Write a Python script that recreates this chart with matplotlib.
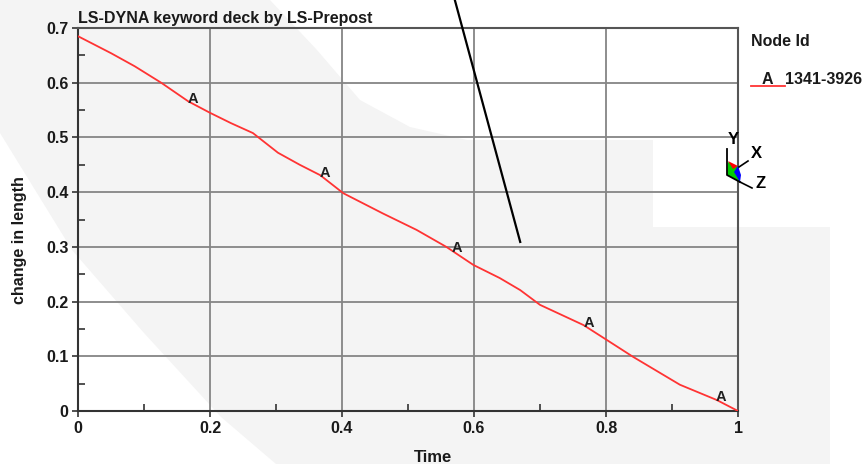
import numpy as np
import matplotlib
matplotlib.use('Agg')
import matplotlib.pyplot as plt
from matplotlib.patches import Polygon
from matplotlib.ticker import MultipleLocator

plt.rcParams['font.family'] = ['Liberation Sans', 'DejaVu Sans']

# curve
time = [0, 0.05, 0.086, 0.126, 0.167, 0.2, 0.232, 0.265, 0.303, 0.336, 0.367, 0.402,
        0.462, 0.513, 0.558, 0.599, 0.639, 0.67, 0.7, 0.766, 0.801, 0.841, 0.912, 0.968, 1.0]
length = [0.685, 0.654, 0.630, 0.600, 0.566, 0.545, 0.526, 0.508, 0.472, 0.450, 0.431, 0.398,
          0.361, 0.331, 0.300, 0.267, 0.243, 0.221, 0.194, 0.157, 0.130, 0.099, 0.048, 0.020, 0.0]
marker_x = [0.17, 0.37, 0.57, 0.77, 0.97]
xticks = [0, 0.2, 0.4, 0.6, 0.8, 1]
xticklabels = ['0', '0.2', '0.4', '0.6', '0.8', '1']
yticks = [0, 0.1, 0.2, 0.3, 0.4, 0.5, 0.6, 0.7]
yticklabels = ['0', '0.1', '0.2', '0.3', '0.4', '0.5', '0.6', '0.7']

W, H = 866, 468
fig = plt.figure(figsize=(W / 100, H / 100), dpi=100)
fig.patch.set_facecolor('white')

# faint gray watermark shape behind everything
bg = fig.add_axes([0, 0, 1, 1], zorder=0)
bg.set_xlim(0, W)
bg.set_ylim(H, 0)
bg.axis('off')
shape = [(0, 0), (270, 0), (317, 50), (360, 100), (410, 127), (467, 140), (653, 140),
         (653, 227), (830, 227), (830, 464), (276, 464), (221, 417), (144, 333),
         (72, 250), (0, 133)]
bg.add_patch(Polygon(shape, closed=True, facecolor='#f4f4f4', edgecolor='none'))

ax = fig.add_axes([78 / W, (H - 411) / H, 660 / W, 383 / H], zorder=1)
ax.set_facecolor('none')
ax.set_xlim(0, 1)
ax.set_ylim(0, 0.7)

ax.plot(time, length, color='#ff3333', lw=1.3, zorder=3)
for mx in marker_x:
    my = np.interp(mx, time, length)
    ax.text(mx + 0.004, my - 0.006, 'A', ha='center', va='bottom', fontsize=10.5,
            fontweight='bold', color='#202020', zorder=4)

ax.set_xticks(xticks)
ax.set_xticklabels(xticklabels)
ax.set_yticks(yticks)
ax.set_yticklabels(yticklabels)
ax.xaxis.set_minor_locator(MultipleLocator(0.1))
ax.yaxis.set_minor_locator(MultipleLocator(0.05))
ax.tick_params(which='major', direction='out', length=4, width=1.2, color='#333333',
               labelsize=11.5, labelcolor='#1a1a1a', pad=3)
ax.tick_params(which='minor', direction='in', length=5, width=1.2, color='#333333')
for lab in ax.get_xticklabels() + ax.get_yticklabels():
    lab.set_fontweight('bold')
ax.grid(True, which='major', color='#858585', lw=1.3)
for side in ['left', 'bottom']:
    ax.spines[side].set_color('#333333')
    ax.spines[side].set_linewidth(1.5)
for side in ['top', 'right']:
    ax.spines[side].set_color('#555555')
    ax.spines[side].set_linewidth(1.5)

# black pointer line crossing the top
ax.plot([0.571, 0.670], [0.751, 0.309], color='black', lw=1.6, clip_on=False, zorder=5)

# overlay in pixel coordinates for labels, legend and the triad
ov = fig.add_axes([0, 0, 1, 1], zorder=2)
ov.set_xlim(0, W)
ov.set_ylim(H, 0)
ov.axis('off')
ov.set_facecolor('none')

ov.text(78, 18, 'LS-DYNA keyword deck by LS-Prepost', fontsize=11.5, fontweight='bold',
        color='#1a1a1a', ha='left', va='center')
ov.text(20, 240, 'change in length', rotation=90, fontsize=11.5, fontweight='bold',
        color='#1a1a1a', ha='center', va='center')
ov.text(433, 458, 'Time', fontsize=12, fontweight='bold', color='#1a1a1a',
        ha='center', va='center')

ov.text(751, 42, 'Node Id', fontsize=11.5, fontweight='bold', color='#1a1a1a',
        ha='left', va='center')
ov.plot([751, 785], [86, 86], color='#ff3333', lw=1.3)
ov.text(767, 79, 'A', fontsize=11.5, fontweight='bold', color='#1a1a1a', ha='center', va='center')
ov.text(785, 79, '1341-3926', fontsize=11.5, fontweight='bold', color='#1a1a1a',
        ha='left', va='center')

# coordinate triad
ov.add_patch(Polygon([(728, 162), (738, 167), (740, 182), (727, 175)],
                     closed=True, facecolor='#00cc00', edgecolor='none'))
ov.add_patch(Polygon([(728, 161), (738, 166), (733, 169)],
                     closed=True, facecolor='#ff0000', edgecolor='none'))
ov.add_patch(Polygon([(738, 166), (741, 175), (740, 182), (734, 172)],
                     closed=True, facecolor='#0000ff', edgecolor='none'))
ov.plot([727, 727, 740], [149, 175, 182], color='black', lw=1.3)
ov.plot([739, 748], [167, 161], color='black', lw=1.2)
ov.plot([740, 752], [182, 188], color='black', lw=1.2)
ov.text(733, 139, 'Y', fontsize=12, fontweight='bold', ha='center', va='center')
ov.text(756, 153, 'X', fontsize=12, fontweight='bold', ha='center', va='center')
ov.text(761, 184, 'Z', fontsize=12, fontweight='bold', ha='center', va='center')

fig.savefig('out.png', dpi=100)
